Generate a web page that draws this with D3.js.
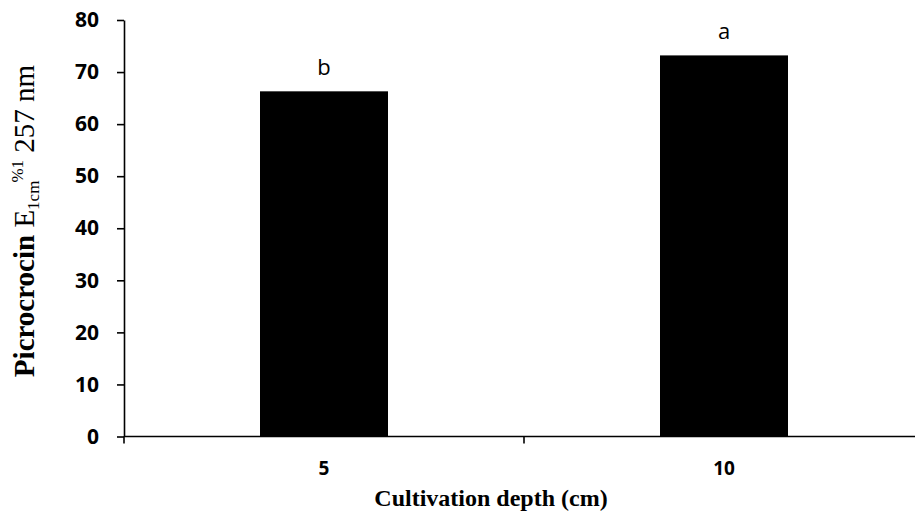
<!DOCTYPE html>
<html>
<head>
<meta charset="utf-8">
<script src="https://cdn.jsdelivr.net/npm/d3@7"></script>
<style>
  html, body { margin: 0; padding: 0; background: #fff; }
  svg { display: block; }
</style>
</head>
<body>
<svg id="chart" width="915" height="513"></svg>
<script>
const categories = ["5", "10"];
const values = [66.3, 73.2];
const letters = ["b", "a"];
const yTicks = [0, 10, 20, 30, 40, 50, 60, 70, 80];

(function () {
const svg = d3.select("#chart");
const mLeft = 124, mRight = 924, mTop = 20, mBottom = 436.5;

const x = d3.scaleBand().domain(categories).range([mLeft, mRight])
  .paddingInner(0.68).paddingOuter(0.34);
const y = d3.scaleLinear().domain([0, 80]).range([mBottom, mTop]);

// bars
svg.append("g").selectAll("rect").data(values).join("rect")
  .attr("x", (d, i) => x(categories[i]))
  .attr("y", d => y(d))
  .attr("width", x.bandwidth())
  .attr("height", d => y(0) - y(d))
  .attr("fill", "#000");

// significance letters
svg.append("g").selectAll("text").data(values).join("text")
  .attr("x", (d, i) => x(categories[i]) + x.bandwidth() / 2)
  .attr("y", d => y(d) - 16)
  .attr("text-anchor", "middle")
  .attr("font-family", "'Open Sans', sans-serif")
  .attr("font-size", 22)
  .attr("fill", "#000")
  .text((d, i) => letters[i]);

// y axis
const yAxis = d3.axisLeft(y).tickValues(yTicks).tickSize(7).tickSizeOuter(0).tickPadding(18);
const gy = svg.append("g").attr("transform", `translate(${mLeft},0)`).call(yAxis);
gy.select(".domain").attr("stroke", "#000").attr("stroke-width", 1.6);
gy.selectAll(".tick line").attr("stroke", "#000").attr("stroke-width", 1.6);
gy.selectAll(".tick text")
  .attr("font-family", "'Open Sans', sans-serif")
  .attr("font-weight", "bold")
  .attr("font-size", 21)
  .attr("fill", "#000");

// x axis line + boundary ticks
const step = x.step();
const boundaries = [mLeft].concat(categories.map(c => x(c) + x.bandwidth() + (step - x.bandwidth()) / 2));
const gx = svg.append("g");
gx.append("line")
  .attr("x1", mLeft).attr("x2", mRight)
  .attr("y1", y(0)).attr("y2", y(0))
  .attr("stroke", "#000").attr("stroke-width", 1.6);
gx.selectAll("line.tk").data(boundaries).join("line")
  .attr("class", "tk")
  .attr("x1", d => d).attr("x2", d => d)
  .attr("y1", y(0)).attr("y2", y(0) + 7)
  .attr("stroke", "#000").attr("stroke-width", 1.6);
gx.selectAll("text").data(categories).join("text")
  .attr("x", c => x(c) + x.bandwidth() / 2)
  .attr("y", 475)
  .attr("text-anchor", "middle")
  .attr("font-family", "'Open Sans', sans-serif")
  .attr("font-weight", "bold")
  .attr("font-size", 19)
  .attr("fill", "#000")
  .text(c => c);

// x title
svg.append("text")
  .attr("x", 491)
  .attr("y", 506)
  .attr("text-anchor", "middle")
  .attr("font-family", "'Liberation Serif', 'Times New Roman', serif")
  .attr("font-weight", "bold")
  .attr("font-size", 24)
  .attr("fill", "#000")
  .text("Cultivation depth (cm)");

// y title
const yt = svg.append("text")
  .attr("transform", "translate(34,221) rotate(-90)")
  .attr("text-anchor", "middle")
  .attr("font-family", "'Liberation Serif', 'Times New Roman', serif")
  .attr("font-size", 29)
  .attr("fill", "#000");
yt.append("tspan").attr("font-weight", "bold").text("Picrocrocin ");
yt.append("tspan").text("E");
yt.append("tspan").attr("font-size", 17).attr("dy", 5).text("1cm");
yt.append("tspan").attr("font-size", 17).attr("dy", -16).attr("dx", -2).text("%1");
yt.append("tspan").attr("dy", 11).text(" 257 nm");
})();
</script>
</body>
</html>
